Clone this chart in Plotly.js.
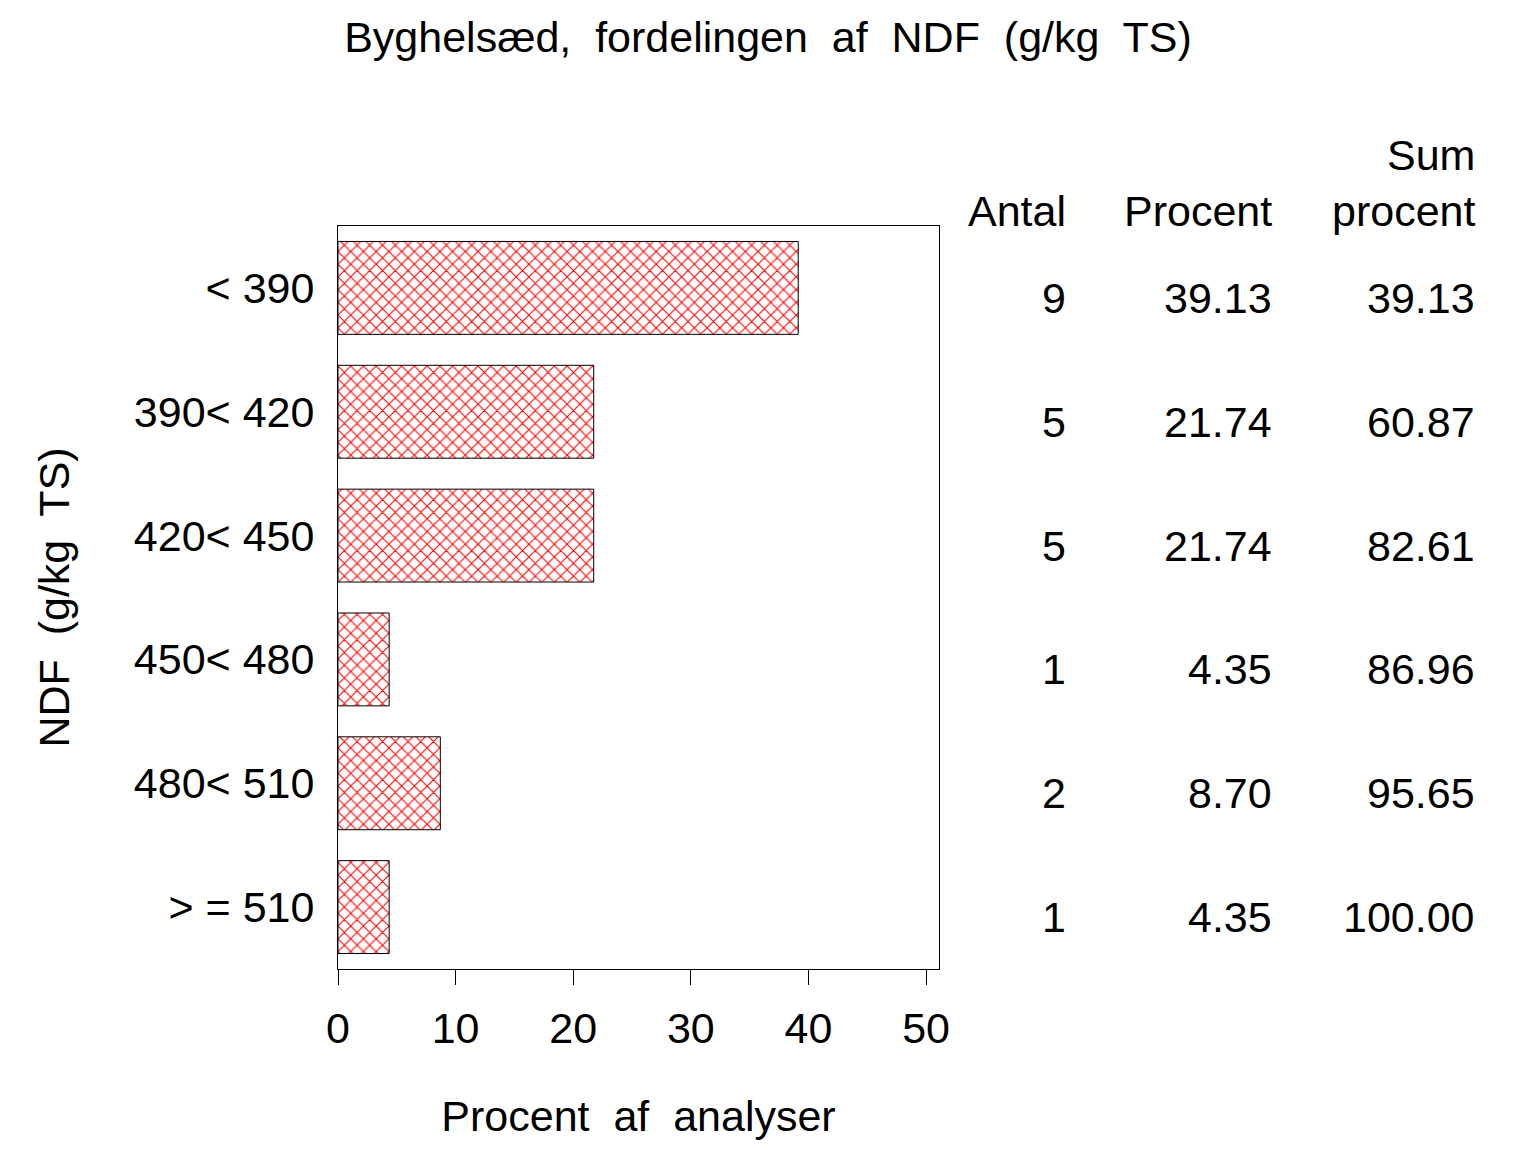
<!DOCTYPE html>
<html>
<head>
<meta charset="utf-8">
<script src="https://cdn.plot.ly/plotly-3.0.1.min.js"></script>
<style>
  html, body { margin: 0; padding: 0; background: #fff; }
  #chart { width: 1536px; height: 1152px; }
</style>
</head>
<body>
<div id="chart"></div>
<script>
const categories = ['< 390', '390< 420', '420< 450', '450< 480', '480< 510', '> = 510']
const percent = [39.13, 21.74, 21.74, 4.35, 8.70, 4.35]
const counts = [9, 5, 5, 1, 2, 1]
const cumPercent = [39.13, 60.87, 82.61, 86.96, 95.65, 100.00]
const xTicks = [0, 10, 20, 30, 40, 50]

const font = 'Liberation Sans, Arial, sans-serif'
const fs = 43

const trace = {
  type: 'bar',
  orientation: 'h',
  y: categories,
  x: percent,
  width: 0.75,
  marker: {
    color: 'white',
    line: { color: 'black', width: 1 },
    pattern: { shape: 'x', fgcolor: '#ff0000', bgcolor: 'white', size: 9, solidity: 0.22 },
  },
  hoverinfo: 'none',
}

// table to the right of the plot
const colX = [1.214, 1.557, 1.896]
const annotations = []
const header = (text, x, y) => annotations.push({
  text, x, y, xref: 'paper', yref: 'paper', xanchor: 'right', yanchor: 'middle',
  showarrow: false, font: { family: font, size: fs, color: 'black' },
})
header('Sum', colX[2], 1.0955)
header('Antal', colX[0], 1.020)
header('Procent', colX[1], 1.020)
header('procent', colX[2], 1.020)

categories.forEach((c, i) => {
  const cols = [String(counts[i]), percent[i].toFixed(2), cumPercent[i].toFixed(2)]
  cols.forEach((t, j) => annotations.push({
    text: t, x: colX[j], y: c, xref: 'paper', yref: 'y',
    xanchor: 'right', yanchor: 'middle', yshift: -10,
    showarrow: false, font: { family: font, size: fs, color: 'black' },
  }))
})

const layout = {
  width: 1536,
  height: 1152,
  paper_bgcolor: 'white',
  plot_bgcolor: 'white',
  showlegend: false,
  font: { family: font, size: fs, color: 'black' },
  margin: { l: 338, r: 597, t: 226, b: 183 },
  title: {
    text: 'Byghelsæd,&nbsp; fordelingen&nbsp; af&nbsp; NDF&nbsp; (g/kg&nbsp; TS)',
    x: 0.5, xref: 'container', y: 0.968, yref: 'container', yanchor: 'middle',
    font: { family: font, size: fs, color: 'black' },
  },
  xaxis: {
    range: [0, 51.1],
    tickvals: xTicks,
    ticktext: xTicks.map(String),
    ticks: 'outside',
    ticklen: 15,
    tickwidth: 1,
    tickcolor: 'black',
    ticklabelstandoff: 6,
    showline: true,
    linecolor: 'black',
    linewidth: 1,
    mirror: true,
    showgrid: false,
    zeroline: false,
    tickfont: { family: font, size: fs },
    title: { text: 'Procent&nbsp; af&nbsp; analyser', standoff: 50, font: { family: font, size: fs } },
  },
  yaxis: {
    autorange: false,
    range: [5.5, -0.5],
    type: 'category',
    ticks: '',
    showline: true,
    linecolor: 'black',
    linewidth: 1,
    mirror: true,
    showgrid: false,
    ticklabelstandoff: 14,
    tickfont: { family: font, size: fs },
    title: { text: 'NDF&nbsp; (g/kg&nbsp; TS)', standoff: 50, font: { family: font, size: fs } },
  },
  annotations,
}

Plotly.newPlot('chart', [trace], layout, { displayModeBar: false, staticPlot: true })
</script>
</body>
</html>
